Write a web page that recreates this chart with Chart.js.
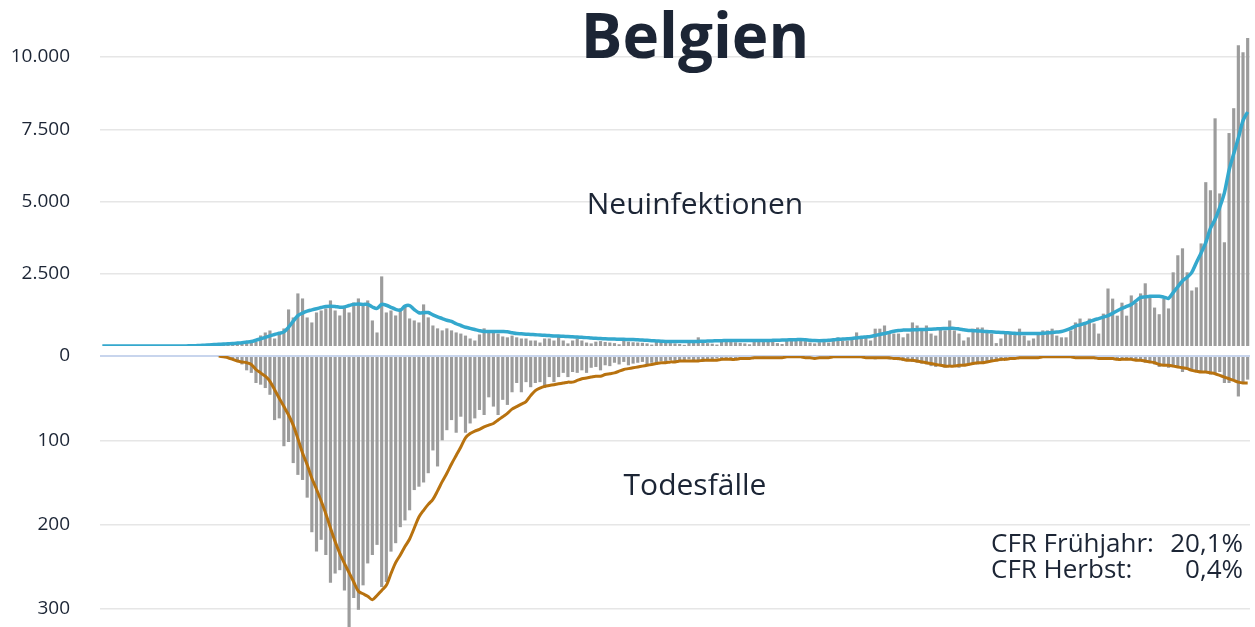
<!DOCTYPE html>
<html lang="de">
<head>
<meta charset="utf-8">
<title>Belgien</title>
<script src="https://cdn.jsdelivr.net/npm/chart.js@4.4.0/dist/chart.umd.min.js"></script>
<style>
  body { margin: 0; background: #fff; font-family: "Open Sans", sans-serif; color: #1c2535; }
  #page { position: relative; width: 1255px; height: 627px; overflow: hidden; }
  .panel { position: absolute; left: 0; width: 1255px; }
  #top { top: 0; height: 346px; }
  #bottom { top: 336px; height: 291px; }
  .label { position: absolute; white-space: nowrap; line-height: 1; z-index: 2; }
  .center { left: 395px; width: 600px; text-align: center; }
  #title { top: 3px; font-size: 62px; font-weight: 700; }
  #infLabel { top: 188px; font-size: 30px; }
  #deathLabel { top: 469px; font-size: 30px; }
  #cfr { left: 991px; top: 529px; width: 252px; font-size: 26px; line-height: 26px; }
  #cfr .row { display: flex; justify-content: space-between; }
</style>
</head>
<body>
<div id="page">
  <div class="panel" id="top"><canvas id="chartCases"></canvas></div>
  <div class="panel" id="bottom"><canvas id="chartDeaths"></canvas></div>
  <div class="label center" id="title">Belgien</div>
  <div class="label center" id="infLabel">Neuinfektionen</div>
  <div class="label center" id="deathLabel">Todesfälle</div>
  <div class="label" id="cfr">
    <div class="row"><span>CFR Frühjahr:</span><span>20,1%</span></div>
    <div class="row"><span>CFR Herbst:</span><span>0,4%</span></div>
  </div>
</div>
<script>
// daily new infections (bars)
const cases = [
  0, 0, 0, 0, 0, 0, 0, 0, 0, 0,
  0, 0, 0, 0, 0, 0, 1, 6, 10, 20,
  30, 50, 60, 80, 50, 90, 100, 110, 80, 120,
  90, 150, 110, 150, 364, 468, 537, 260, 433, 607,
  1265, 988, 1820, 1646, 988, 815, 1161, 1230, 1300, 1577,
  1230, 1057, 1334, 1161, 1508, 1646, 1404, 1577, 884, 468,
  2409, 1161, 1230, 1057, 1300, 1404, 953, 884, 815, 1440,
  990, 710, 610, 540, 610, 540, 470, 430, 360, 260,
  190, 400, 610, 470, 540, 430, 330, 300, 360, 300,
  260, 260, 190, 190, 120, 260, 260, 190, 360, 190,
  90, 190, 260, 190, 120, 90, 150, 170, 140, 120,
  100, 60, 180, 150, 130, 120, 110, 90, 50, 160,
  130, 120, 100, 90, 70, 40, 150, 140, 300, 110,
  100, 80, 50, 170, 150, 140, 130, 110, 90, 60,
  200, 180, 170, 160, 150, 100, 70, 230, 200, 220,
  190, 170, 120, 90, 130, 150, 120, 180, 300, 190,
  190, 250, 470, 260, 290, 190, 600, 600, 710, 470,
  430, 430, 300, 430, 815, 710, 600, 710, 430, 360,
  600, 540, 884, 540, 430, 190, 300, 600, 640, 640,
  540, 430, 100, 260, 430, 430, 430, 600, 360, 190,
  260, 430, 540, 540, 600, 360, 300, 300, 540, 815,
  950, 815, 950, 780, 430, 1120, 1990, 1640, 1050, 1500,
  1050, 1750, 1500, 1820, 2170, 1680, 1330, 1100, 1640, 1300,
  2550, 3140, 3380, 2550, 1920, 2030, 3550, 5670, 5390, 7880,
  5280, 3590, 7370, 8230, 10410, 10170, 10660
];

// 7-day average of new infections (blue line)
const casesAvg = [
  0, 0, 0, 0, 0, 0, 0, 0, 0, 0,
  0, 0, 0, 0, 0, 0, 1, 2, 4, 7,
  11, 18, 27, 38, 48, 58, 68, 77, 86, 100,
  115, 135, 156, 200, 250, 300, 350, 400, 440, 490,
  650, 860, 1050, 1140, 1210, 1250, 1290, 1330, 1370, 1380,
  1370, 1340, 1350, 1400, 1440, 1450, 1440, 1440, 1350, 1300,
  1440, 1410, 1340, 1270, 1240, 1380, 1400, 1260, 1150, 1150,
  1160, 1080, 1010, 950, 890, 850, 770, 710, 650, 610,
  570, 530, 500, 500, 505, 505, 500, 490, 460, 430,
  420, 410, 400, 390, 380, 370, 360, 350, 345, 335,
  330, 320, 310, 300, 290, 275, 265, 260, 250, 245,
  240, 235, 230, 228, 225, 215, 205, 195, 185, 175,
  165, 156, 156, 155, 155, 156, 156, 158, 160, 165,
  170, 175, 180, 185, 188, 190, 190, 190, 190, 190,
  190, 190, 190, 190, 195, 200, 205, 210, 215, 220,
  225, 215, 200, 190, 185, 190, 200, 215, 230, 240,
  250, 260, 280, 300, 315, 330, 365, 400, 430, 470,
  510, 540, 550, 555, 560, 565, 570, 575, 580, 590,
  600, 605, 610, 610, 590, 565, 540, 530, 520, 510,
  500, 490, 480, 470, 460, 450, 440, 430, 430, 430,
  430, 430, 440, 455, 470, 485, 500, 550, 610, 690,
  730, 780, 840, 900, 950, 1000, 1050, 1130, 1220, 1300,
  1370, 1440, 1560, 1680, 1700, 1720, 1720, 1720, 1690, 1650,
  1850, 2050, 2250, 2380, 2550, 2890, 3220, 3580, 4070, 4380,
  4800, 5300, 6080, 6650, 7200, 7800, 8100
];

// daily deaths (bars, drawn downwards)
const deaths = [
  0, 0, 0, 0, 0, 0, 0, 0, 0, 0,
  0, 0, 0, 0, 0, 0, 0, 0, 0, 0,
  0, 0, 0, 0, 0, 1, 1, 3, 4, 5,
  10, 17, 20, 32, 34, 38, 46, 76, 74, 107,
  102, 127, 141, 147, 168, 209, 232, 218, 236, 269,
  258, 254, 278, 335, 287, 301, 272, 246, 236, 224,
  274, 268, 232, 222, 203, 195, 183, 159, 155, 150,
  139, 112, 131, 100, 88, 76, 91, 72, 91, 80,
  74, 64, 70, 49, 60, 70, 52, 58, 43, 32,
  43, 31, 37, 32, 31, 38, 25, 31, 25, 20,
  25, 19, 20, 17, 20, 14, 13, 17, 11, 12,
  8, 10, 7, 11, 9, 8, 7, 11, 8, 9,
  6, 7, 5, 8, 6, 7, 4, 6, 5, 7,
  4, 6, 3, 5, 4, 5, 3, 4, 2, 4,
  3, 2, 1, 3, 2, 2, 1, 2, 1, 2,
  1, 3, 2, 4, 2, 3, 1, 2, 1, 2,
  1, 2, 1, 2, 3, 2, 4, 3, 2, 4,
  3, 5, 6, 5, 7, 8, 9, 10, 12, 13,
  11, 14, 13, 12, 14, 10, 11, 9, 10, 7,
  8, 6, 5, 6, 4, 4, 3, 3, 2, 3,
  2, 1, 2, 1, 2, 1, 2, 1, 2, 3,
  2, 3, 2, 3, 4, 3, 4, 3, 5, 4,
  5, 4, 6, 5, 8, 7, 10, 13, 12, 14,
  11, 13, 19, 15, 17, 17, 20, 18, 22, 22,
  19, 32, 32, 28, 48, 32, 28
];

// 7-day average of deaths (orange line)
const deathsAvg = [
  null, null, null, null, null, null, null, null, null, null,
  null, null, null, null, null, null, null, null, null, null,
  null, null, null, null, null, 0, 1, 2, 4, 6,
  7, 8, 10, 16, 20, 24, 30, 40, 50, 60,
  70, 82, 98, 115, 129, 145, 158, 172, 187, 204,
  220, 234, 246, 257, 268, 279, 282, 285, 289, 284,
  278, 272, 258, 245, 236, 226, 217, 204, 191, 183,
  176, 170, 160, 149, 139, 128, 118, 108, 97, 92,
  89, 87, 84, 82, 80, 76, 72, 68, 63, 60,
  57, 54, 47, 41, 38, 36, 35, 34, 33, 32,
  31, 31, 29, 27, 26, 25, 24, 24, 22, 21,
  20, 18, 16, 15, 14, 13, 12, 11, 10, 9,
  8, 8, 7, 7, 6, 6, 6, 6, 6, 5,
  5, 5, 5, 4, 4, 4, 4, 3, 3, 3,
  2, 2, 2, 2, 2, 2, 2, 1, 1, 1,
  1, 2, 2, 3, 2, 2, 2, 1, 1, 1,
  1, 1, 1, 1, 2, 2, 2, 2, 2, 2,
  3, 3, 4, 5, 5, 6, 7, 8, 9, 10,
  11, 12, 12, 12, 11, 11, 10, 9, 8, 8,
  7, 6, 5, 4, 4, 3, 3, 2, 2, 2,
  2, 2, 1, 1, 1, 1, 1, 1, 1, 2,
  2, 2, 2, 2, 3, 3, 3, 3, 4, 4,
  4, 4, 5, 5, 6, 7, 8, 10, 11, 11,
  12, 13, 14, 15, 17, 18, 19, 19, 20, 21,
  23, 25, 27, 29, 31, 32, 32
];

const caseTicks = [2500, 5000, 7500, 10000];
const deathTicks = [0, 100, 200, 300];

const days = cases.map((_, i) => new Date(2020, 1, 14 + i).toLocaleDateString('de-DE'));

const tickFont = { family: 'Open Sans', size: 19 };
const textColor = '#1c2535';

function yAxis(opts) {
    return Object.assign({
        border: { display: false },
        afterFit: (s) => { s.width = 100; s.paddingTop = 0; s.paddingBottom = 0; },
    }, opts);
}

new Chart(document.getElementById('chartCases'), {
    type: 'bar',
    data: {
        labels: days,
        datasets: [
            { type: 'line', data: casesAvg, borderColor: '#34a8cd', borderWidth: 3.5,
              pointRadius: 0, tension: 0.3, order: 0 },
            { data: cases, backgroundColor: '#9c9c9c', barPercentage: 0.68,
              categoryPercentage: 1, order: 1 }
        ]
    },
    options: {
        responsive: true,
        maintainAspectRatio: false,
        animation: false,
        layout: { padding: { left: 0, right: 5, top: 0, bottom: 0 } },
        plugins: { legend: { display: false }, tooltip: { enabled: false } },
        scales: {
            x: { display: false, offset: true },
            y: yAxis({
                min: 0, max: 11975,
                afterBuildTicks: (s) => { s.ticks = caseTicks.map(v => ({ value: v })); },
                grid: { drawTicks: false, lineWidth: 1.5, color: '#e6e6e6' },
                ticks: { padding: 30, color: textColor, font: tickFont,
                         callback: (v) => v.toLocaleString('de-DE') }
            })
        }
    }
});

new Chart(document.getElementById('chartDeaths'), {
    type: 'bar',
    data: {
        labels: days,
        datasets: [
            { type: 'line', data: deathsAvg, borderColor: '#b8720f', borderWidth: 3,
              pointRadius: 0, tension: 0.3, order: 0 },
            { data: deaths, backgroundColor: '#9c9c9c', barPercentage: 0.68,
              categoryPercentage: 1, order: 1 }
        ]
    },
    options: {
        responsive: true,
        maintainAspectRatio: false,
        animation: false,
        layout: { padding: { left: 0, right: 5, top: 20, bottom: 0 } },
        plugins: { legend: { display: false }, tooltip: { enabled: false } },
        scales: {
            x: { display: false, offset: true },
            y: yAxis({
                reverse: true, min: 0, max: 321.4,
                afterBuildTicks: (s) => { s.ticks = deathTicks.map(v => ({ value: v })); },
                grid: { drawTicks: false,
                        lineWidth: (c) => c.tick && c.tick.value === 0 ? 2 : 1.5,
                        color: (c) => c.tick && c.tick.value === 0 ? '#c8d5ed' : '#e6e6e6' },
                ticks: { padding: 30, color: textColor, font: tickFont }
            })
        }
    }
});
</script>
</body>
</html>
